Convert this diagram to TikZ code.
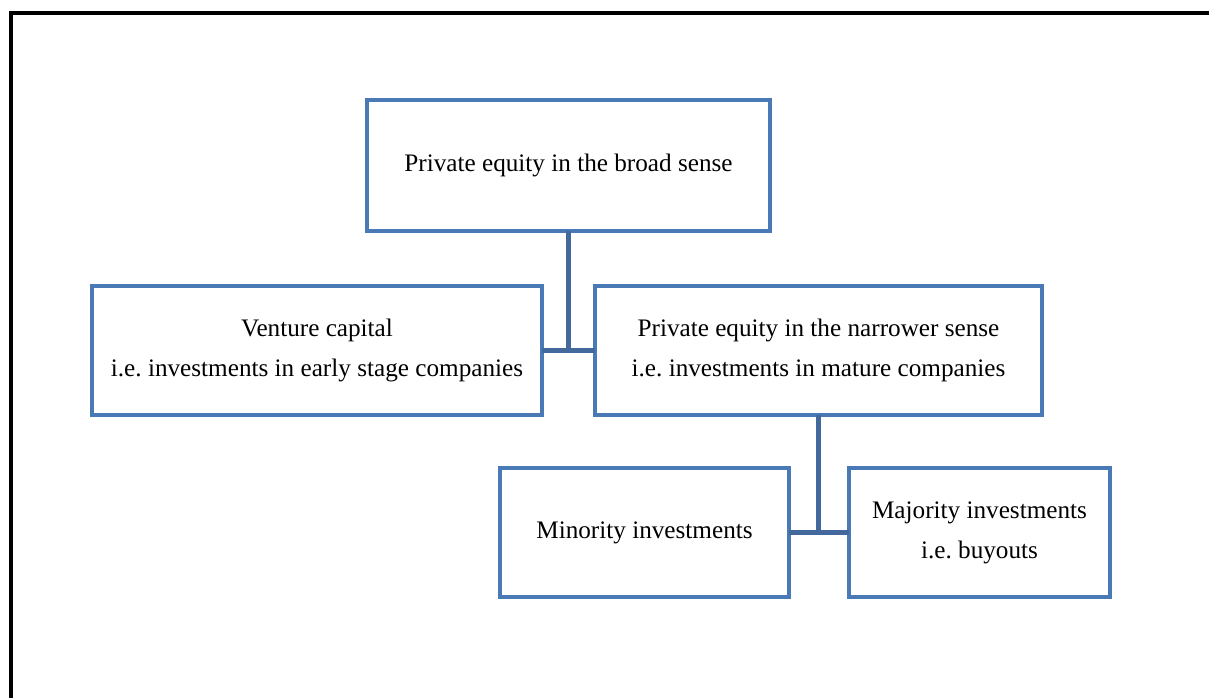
\documentclass[tikz,border=0pt]{standalone}
\usepackage{fontspec}
\setmainfont{Liberation Serif}
\frenchspacing
\definecolor{boxblue}{RGB}{74,122,181}
\definecolor{linkblue}{RGB}{66,104,156}
\begin{document}
\begin{tikzpicture}[x=0.75pt,y=-0.75pt,
  box/.style={draw=boxblue, line width=3.4pt, outer sep=0pt, inner sep=0pt,
    align=center, font=\fontsize{18.9}{30}\selectfont},
  link/.style={draw=linkblue, line width=3.4pt}]
\useasboundingbox (0,0) rectangle (1209,697);
% page frame, open at the right and bottom
\draw[black, line width=2.3pt] (11,700) -- (11,13) -- (1212,13);
% boxes (centre, size in px)
\node[box, minimum width=403*0.75pt, minimum height=131*0.75pt] (broad) at (568.5,165.5)
  {Private equity in the broad sense};
\node[box, minimum width=450*0.75pt, minimum height=129*0.75pt] (vc) at (317,350.5)
  {Venture capital\\i.e. investments in early stage companies};
\node[box, minimum width=447*0.75pt, minimum height=129*0.75pt] (narrow) at (818.5,350.5)
  {Private equity in the narrower sense\\i.e. investments in mature companies};
\node[box, minimum width=289*0.75pt, minimum height=129*0.75pt] (minority) at (644.5,532.5)
  {Minority investments};
\node[box, minimum width=261*0.75pt, minimum height=129*0.75pt] (majority) at (979.5,532.5)
  {Majority investments\\i.e. buyouts};
% connectors
\draw[link] (vc.east) -- (narrow.west);
\draw[link] (broad.south) -- (broad.south |- vc.east);
\draw[link] (minority.east) -- (majority.west);
\draw[link] (narrow.south) -- (narrow.south |- minority.east);
\end{tikzpicture}
\end{document}
